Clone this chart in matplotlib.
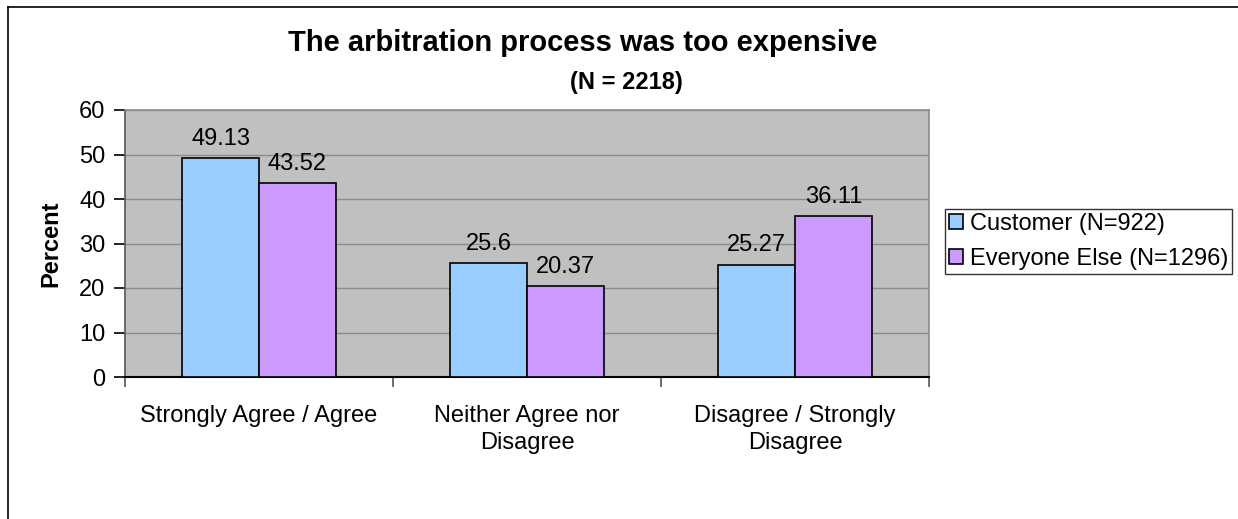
import numpy as np
import matplotlib
matplotlib.use("Agg")
import matplotlib.pyplot as plt
from matplotlib.lines import Line2D

plt.rcParams['font.family'] = ['Liberation Sans', 'DejaVu Sans']

# data
categories = ['Strongly Agree / Agree', 'Neither Agree nor\nDisagree', 'Disagree / Strongly\nDisagree']
customer = [49.13, 25.6, 25.27]
everyone_else = [43.52, 20.37, 36.11]
series_names = ['Customer (N=922)', 'Everyone Else (N=1296)']
yticks = [0, 10, 20, 30, 40, 50, 60]

W, H = 1238, 519
fig = plt.figure(figsize=(W / 100, H / 100), dpi=100)
ax = fig.add_axes([125 / W, 1 - 377 / H, (929 - 125) / W, (377 - 110) / H])

x = np.arange(len(categories))
bw = 1 / 3.5  # excel gap width 150%
b1 = ax.bar(x - bw / 2, customer, bw, color='#99CCFF', edgecolor='black', linewidth=1.2,
            label=series_names[0], zorder=3)
b2 = ax.bar(x + bw / 2, everyone_else, bw, color='#CC99FF', edgecolor='black', linewidth=1.2,
            label=series_names[1], zorder=3)

# value labels above bars
for bars, vals in ((b1, customer), (b2, everyone_else)):
    for r, v in zip(bars, vals):
        ax.annotate(f'{v:g}', (r.get_x() + r.get_width() / 2, r.get_height()),
                    xytext=(0, 6), textcoords='offset points', ha='center', va='bottom',
                    fontsize=17, zorder=4)

ax.set_facecolor('#C0C0C0')
ax.set_xlim(-0.5, 2.5)
ax.set_ylim(0, 60)
ax.set_yticks(yticks)
ax.yaxis.grid(True, color='#8C8C8C', linewidth=1.0, zorder=0)
ax.set_axisbelow(True)

ax.set_xticks(x)
ax.set_xticklabels(categories, fontsize=17, linespacing=1.3)
ax.set_xticks([-0.5, 0.5, 1.5, 2.5], minor=True)
ax.tick_params(axis='x', which='major', length=0, pad=20)
ax.tick_params(axis='x', which='minor', length=7, width=1.2, color='#555555', direction='out')
ax.tick_params(axis='y', labelsize=17, length=8, width=1.2, direction='out', pad=6)

for s in ('top', 'right'):
    ax.spines[s].set_color('#8C8C8C')
    ax.spines[s].set_linewidth(1.2)
ax.spines['left'].set_color('#555555')
ax.spines['bottom'].set_color('black')
ax.spines['left'].set_linewidth(1.2)
ax.spines['bottom'].set_linewidth(1.5)

ax.set_ylabel('Percent', fontsize=17, fontweight='bold', labelpad=12)

fig.text(583 / W, 1 - 43 / H, 'The arbitration process was too expensive',
         ha='center', va='center', fontsize=21, fontweight='bold')
fig.text(626 / W, 1 - 82 / H, '(N = 2218)', ha='center', va='center',
         fontsize=17, fontweight='bold')

leg = ax.legend(loc='center left', bbox_to_anchor=(945 / W, 1 - 241.5 / H),
                bbox_transform=fig.transFigure, fontsize=17, frameon=True, fancybox=False,
                handlelength=0.6, handleheight=0.6, handletextpad=0.3, borderpad=0.15,
                labelspacing=0.55, borderaxespad=0)
leg.get_frame().set_edgecolor('black')
leg.get_frame().set_linewidth(1.0)

# chart border (cut off at right and bottom)
fig.add_artist(Line2D([8 / W, 1.0], [1 - 7 / H, 1 - 7 / H], color='black', linewidth=1.2,
                      transform=fig.transFigure))
fig.add_artist(Line2D([8 / W, 8 / W], [0.0, 1 - 7 / H], color='black', linewidth=1.2,
                      transform=fig.transFigure))

fig.savefig('out.png', dpi=100)
